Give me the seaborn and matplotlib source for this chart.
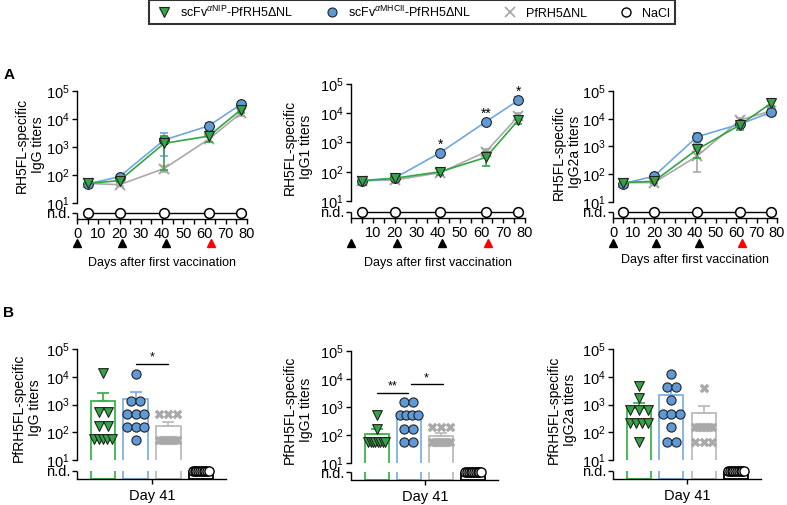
import numpy as np
import pandas as pd
import matplotlib
matplotlib.use('Agg')
import matplotlib.pyplot as plt
import matplotlib.transforms as mtransforms
from matplotlib.lines import Line2D
from matplotlib.ticker import FixedLocator, NullLocator
import seaborn as sns

sns.set_theme(style='ticks')
plt.rcParams['font.family'] = ['Liberation Sans', 'DejaVu Sans']
plt.rcParams['mathtext.fontset'] = 'custom'
plt.rcParams['mathtext.rm'] = 'Liberation Sans'
plt.rcParams['mathtext.it'] = 'Liberation Sans:italic'
plt.rcParams['mathtext.bf'] = 'Liberation Sans:bold'
plt.rcParams['axes.linewidth'] = 1.0
plt.rcParams['xtick.major.width'] = 1.0
plt.rcParams['ytick.major.width'] = 1.0
plt.rcParams['xtick.minor.width'] = 1.0
plt.rcParams['xtick.color'] = 'black'
plt.rcParams['ytick.color'] = 'black'
plt.rcParams['axes.edgecolor'] = 'black'
plt.rcParams['text.color'] = 'black'

# ---------------- data ----------------
group_keys = ['NIP', 'MHCII', 'PfRH5', 'NaCl']
legend_labels = [r'scFv$^{\alpha\mathrm{NIP}}$-PfRH5ΔNL',
                 r'scFv$^{\alpha\mathrm{MHCII}}$-PfRH5ΔNL',
                 'PfRH5ΔNL', 'NaCl']
days = [5, 20, 41, 62, 77]
vaccination_days = [0, 21, 42, 63]
vaccination_colors = ['black', 'black', 'black', 'red']
a_ylabels = ['RH5FL-specific\nIgG titers', 'RH5FL-specific\nIgG1 titers', 'RH5FL-specific\nIgG2a titers']
b_ylabels = ['PfRH5FL-specific\nIgG titers', 'PfRH5FL-specific\nIgG1 titers', 'PfRH5FL-specific\nIgG2a titers']
x_title = 'Days after first vaccination'
b_xlabel = 'Day 41'

# Panel A: mean titers and SEM over time
igg_nip = [50, 63, 1350, 2450, 21000]
igg_nip_sem = [4, 8, 1200, 1000, 5000]
igg_mhc = [48, 87, 1780, 5700, 33000]
igg_mhc_sem = [4, 15, 1300, 1500, 6000]
igg_pf = [50, 45, 170, 1900, 16000]
igg_pf_sem = [4, 5, 40, 400, 3000]

igg1_nip = [50, 60, 100, 310, 5900]
igg1_nip_sem = [4, 6, 20, 150, 1500]
igg1_mhc = [47, 60, 450, 5100, 28000]
igg1_mhc_sem = [4, 6, 90, 900, 7000]
igg1_pf = [50, 52, 93, 480, 8000]
igg1_pf_sem = [4, 5, 15, 100, 2000]

igg2a_nip = [50, 56, 780, 6000, 36000]
igg2a_nip_sem = [4, 6, 400, 2100, 8000]
igg2a_mhc = [46, 85, 2240, 6400, 17000]
igg2a_mhc_sem = [4, 15, 900, 1500, 3000]
igg2a_pf = [50, 50, 450, 9000, 19000]
igg2a_pf_sem = [4, 5, 330, 2000, 3000]

igg1_sig_days = [41, 62, 77]
igg1_sig_labels = ['*', '**', '*']

# Panel B: day 41 individual titers, bar means, SEM
b_igg_nip = [13500, 550, 550, 170, 170, 56, 56, 56, 56, 56]
b_igg_mhc = [13000, 1350, 1350, 460, 460, 460, 150, 150, 150, 52]
b_igg_pf = [460, 460, 460, 52, 52, 52, 52, 52, 52, 52]
b_igg_mean = [1350, 1600, 170]
b_igg_sem = [1250, 1150, 70]

b_igg1_nip = [530, 160, 57, 57, 57, 57, 57, 57, 57, 57]
b_igg1_mhc = [1500, 1500, 500, 500, 500, 500, 160, 160, 54, 54]
b_igg1_pf = [200, 200, 200, 57, 57, 57, 57, 57, 57, 57]
b_igg1_mean = [106, 500, 92]
b_igg1_sem = [55, 170, 28]

b_igg2a_nip = [4700, 1700, 620, 620, 620, 220, 220, 220, 220, 46]
b_igg2a_mhc = [13000, 4300, 4300, 1400, 460, 460, 460, 150, 46, 46]
b_igg2a_pf = [3900, 160, 160, 160, 160, 160, 160, 46, 46, 46]
b_igg2a_mean = [740, 2240, 490]
b_igg2a_sem = [380, 1250, 400]

n_nacl = 10  # NaCl mice: all not detected

# ---------------- style ----------------
GREEN = '#33a544'
BLUE = '#5f9ad6'
BLUE_LINE = '#6fa8de'
GRAY = '#a9a9a9'
BAR_EDGE = ['#3cb44b', '#7fb1e3', '#bcbcbc', 'black']

W, H = 787, 505
fig = plt.figure(figsize=(W / 100, H / 100), dpi=100)


def px_axes(x0, top, x1, bottom):
    return fig.add_axes([x0 / W, 1 - bottom / H, (x1 - x0) / W, (bottom - top) / H])


def ftext(x, y, s, **kw):
    return fig.text(x / W, 1 - y / H, s, **kw)


def make_log_axis(x0, x1, top, ten, nd, axis):
    ax = px_axes(x0, top, x1, axis)
    dec = (ten - top) / 4.0
    bottom_log = 1 - (axis - ten) / dec
    nd_log = 1 - (nd - ten) / dec
    ax.set_yscale('log')
    ax.set_ylim(10 ** bottom_log, 1e5)
    return ax, 10 ** bottom_log, 10 ** nd_log


def finish_log_axis(ax, ybot, ynd):
    ax.set_yscale('log')
    ax.set_ylim(ybot, 1e5)
    ax.yaxis.set_major_locator(FixedLocator([ynd, 1e1, 1e2, 1e3, 1e4, 1e5]))
    ax.yaxis.set_minor_locator(NullLocator())
    ax.set_yticklabels(['n.d.', '$10^{1}$', '$10^{2}$', '$10^{3}$', '$10^{4}$', '$10^{5}$'])
    ax.spines['left'].set_bounds(10, 1e5)
    for s in ['top', 'right']:
        ax.spines[s].set_visible(False)
    trans = mtransforms.blended_transform_factory(ax.transAxes, ax.transData)
    ax.add_line(Line2D([0, 0], [ybot, ynd], transform=trans, color='black', lw=1.0,
                       clip_on=False, solid_capstyle='butt'))
    ax.tick_params(axis='y', length=3.5, width=1.0, pad=1.5, labelsize=10.5)
    ax.set_ylabel('')
    ax.set_xlabel('')
    ax.grid(False)
    ax.set_facecolor('none')


# ---------------- Panel A ----------------
a_specs = [
    dict(x0=77, x1=247, top=91, ten=203, nd=213, axis=219, lab_x=30, lab_y=145, title_y=263, zero=True,
         data=[(igg_pf, igg_pf_sem), (igg_mhc, igg_mhc_sem), (igg_nip, igg_nip_sem)]),
    dict(x0=351, x1=525, top=84, ten=201, nd=212, axis=218, lab_x=298, lab_y=147, title_y=263, zero=False,
         data=[(igg1_pf, igg1_pf_sem), (igg1_mhc, igg1_mhc_sem), (igg1_nip, igg1_nip_sem)]),
    dict(x0=613, x1=777, top=91, ten=202, nd=212, axis=218, lab_x=567, lab_y=152, title_y=260, zero=True,
         data=[(igg2a_pf, igg2a_pf_sem), (igg2a_mhc, igg2a_mhc_sem), (igg2a_nip, igg2a_nip_sem)]),
]
series_style = [
    dict(color=GRAY, marker='x', mfc=GRAY, mec=GRAY, ms=6.5, mew=1.5, z=3),
    dict(color=BLUE_LINE, marker='o', mfc=BLUE, mec='#222222', ms=7, mew=0.8, z=4),
    dict(color=GREEN, marker='v', mfc=GREEN, mec='#222222', ms=7.5, mew=0.8, z=5),
]

for i, sp in enumerate(a_specs):
    ax, ybot, ynd = make_log_axis(sp['x0'], sp['x1'], sp['top'], sp['ten'], sp['nd'], sp['axis'])
    for (vals, sems), st in zip(sp['data'], series_style):
        ax.errorbar(days, vals, yerr=sems, fmt='none', ecolor=st['color'], elinewidth=1.2,
                    capsize=3, capthick=1.2, zorder=st['z'] - 0.5)
        df = pd.DataFrame({'day': days, 'titer': vals})
        sns.lineplot(data=df, x='day', y='titer', ax=ax, color=st['color'], lw=1.2,
                     marker=st['marker'], markersize=st['ms'], markerfacecolor=st['mfc'],
                     markeredgecolor=st['mec'], markeredgewidth=st['mew'], zorder=st['z'],
                     errorbar=None)
    nacl_df = pd.DataFrame({'day': days, 'titer': [ynd] * len(days)})
    sns.lineplot(data=nacl_df, x='day', y='titer', ax=ax, color='black', lw=1.0, marker='o',
                 markersize=7, markerfacecolor='white', markeredgecolor='black',
                 markeredgewidth=1.1, zorder=6, errorbar=None, clip_on=False)
    finish_log_axis(ax, ybot, ynd)
    ax.set_xlim(0, 80)
    ax.set_xticks(list(range(0, 81, 10)))
    ax.set_xticks(list(range(5, 80, 10)), minor=True)
    xl = [str(v) for v in range(0, 81, 10)]
    if not sp['zero']:
        xl[0] = ''
    ax.set_xticklabels(xl)
    ax.tick_params(axis='x', which='both', length=3.3, width=1.0, pad=2.5, labelsize=10.5)
    # vaccination markers
    vy = (sp['axis'] - 243) / (sp['axis'] - sp['top'])
    tr = mtransforms.blended_transform_factory(ax.transData, ax.transAxes)
    for d, c in zip(vaccination_days, vaccination_colors):
        ax.plot([d], [vy], marker='^', color=c, markersize=6, transform=tr, clip_on=False, ls='none')
    ftext((sp['x0'] + sp['x1']) / 2, sp['title_y'], x_title, ha='center', va='center', fontsize=9)
    ftext(sp['lab_x'], sp['lab_y'], a_ylabels[i], rotation=90, ha='center', va='center',
          fontsize=10, multialignment='center', linespacing=1.15)
    if i == 1:
        for d, lbl in zip(igg1_sig_days, igg1_sig_labels):
            v = igg1_mhc[days.index(d)]
            ax.annotate(lbl, xy=(d, v), xytext=(0, 6), textcoords='offset points',
                        ha='center', va='center', fontsize=10)

# ---------------- Panel B ----------------
b_specs = [
    dict(x0=77, x1=226, top=349, ten=460, nd=471, axis=479, lab_x=27, lab_y=408,
         pts=[b_igg_nip, b_igg_mhc, b_igg_pf], mean=b_igg_mean, sem=b_igg_sem,
         brackets=[(1.0, 2.0, 3.0e4, '*')]),
    dict(x0=351, x1=498, top=351, ten=463, nd=472, axis=480, lab_x=298, lab_y=410,
         pts=[b_igg1_nip, b_igg1_mhc, b_igg1_pf], mean=b_igg1_mean, sem=b_igg1_sem,
         brackets=[(0.0, 0.97, 3.2e3, '**'), (1.05, 2.05, 6.6e3, '*')]),
    dict(x0=613, x1=761, top=349, ten=460, nd=471, axis=479, lab_x=562, lab_y=410,
         pts=[b_igg2a_nip, b_igg2a_mhc, b_igg2a_pf], mean=b_igg2a_mean, sem=b_igg2a_sem,
         brackets=[]),
]
pt_style = [
    dict(marker='v', color=GREEN, edgecolor='#222222', linewidth=0.8, size=7.0),
    dict(marker='o', color=BLUE, edgecolor='#222222', linewidth=0.8, size=6.6),
    dict(marker='X', color=GRAY, edgecolor=GRAY, linewidth=0, size=7.0),
    dict(marker='o', color='white', edgecolor='black', linewidth=1.0, size=6.6),
]
BAR_W = 0.75


def spread_rows(coll, center, half_width, step):
    offs = np.asarray(coll.get_offsets(), dtype=float).copy()
    keys = np.round(np.log10(offs[:, 1]), 2)
    for k in np.unique(keys):
        idx = np.where(keys == k)[0]
        n = len(idx)
        if n > 1:
            s = min(step, 2 * half_width / (n - 1))
            offs[idx, 0] = center + (np.arange(n) - (n - 1) / 2) * s
        else:
            offs[idx, 0] = center
    coll.set_offsets(offs)


for i, sp in enumerate(b_specs):
    ax, ybot, ynd = make_log_axis(sp['x0'], sp['x1'], sp['top'], sp['ten'], sp['nd'], sp['axis'])
    ax.set_yscale('linear')
    bar_vals = list(sp['mean']) + [ynd]
    sns.barplot(x=group_keys, y=bar_vals, hue=group_keys, order=group_keys, hue_order=group_keys,
                palette=BAR_EDGE, fill=False, linewidth=1.3, width=BAR_W, legend=False, ax=ax,
                errorbar=None)
    ax.set_yscale('log')
    ax.set_ylim(ybot, 1e5)
    for j, p in enumerate(ax.patches):
        top = bar_vals[j]
        p.set_y(ybot)
        p.set_height(top - ybot)
        p.set_zorder(1.5)
    # axis break band
    ax.axhspan(10, ynd, color='white', zorder=2.2, lw=0)
    # error bars (upward SEM)
    for j in range(3):
        ax.errorbar([j], [sp['mean'][j]], yerr=[[0], [sp['sem'][j]]], fmt='none',
                    ecolor=BAR_EDGE[j], elinewidth=1.3, capsize=4.5, capthick=1.3, zorder=1.6)
    # points
    all_pts = list(sp['pts']) + [[ynd] * n_nacl]
    for j, vals in enumerate(all_pts):
        st = pt_style[j]
        n0 = len(ax.collections)
        sns.stripplot(x=[group_keys[j]] * len(vals), y=vals, order=group_keys, jitter=False,
                      marker=st['marker'], color=st['color'], edgecolor=st['edgecolor'],
                      linewidth=st['linewidth'], size=st['size'], ax=ax, zorder=4)
        for coll in ax.collections[n0:]:
            if len(coll.get_offsets()) == 0:
                continue
            coll.set_clip_on(False)
            if j == 3:
                spread_rows(coll, j, 0.25, 0.28)
            else:
                spread_rows(coll, j, 0.27, 0.28)
    for x1, x2, yv, lbl in sp['brackets']:
        ax.plot([x1, x2], [yv, yv], color='black', lw=1.0, zorder=5)
        ax.annotate(lbl, xy=((x1 + x2) / 2, yv), xytext=(0, 0), textcoords='offset points',
                    ha='center', va='bottom', fontsize=9)
    finish_log_axis(ax, ybot, ynd)
    ax.set_xlim(-0.8, 3.77)
    ax.set_xticks([1.5])
    ax.set_xticklabels([b_xlabel])
    ax.xaxis.set_minor_locator(NullLocator())
    ax.tick_params(axis='x', length=3.5, width=1.0, pad=4, labelsize=10.5)
    ftext(sp['lab_x'], sp['lab_y'], b_ylabels[i], rotation=90, ha='center', va='center',
          fontsize=10, multialignment='center', linespacing=1.15)

# panel letters
ftext(9, 75, 'A', fontsize=11, fontweight='bold', ha='center', va='center')
ftext(9, 313, 'B', fontsize=11, fontweight='bold', ha='center', va='center')

# legend
handles = [
    Line2D([], [], ls='none', marker='v', markerfacecolor=GREEN, markeredgecolor='#222222', markeredgewidth=0.8, markersize=7),
    Line2D([], [], ls='none', marker='o', markerfacecolor=BLUE, markeredgecolor='#222222', markeredgewidth=0.8, markersize=6.5),
    Line2D([], [], ls='none', marker='x', color=GRAY, markeredgewidth=1.3, markersize=6.5),
    Line2D([], [], ls='none', marker='o', markerfacecolor='white', markeredgecolor='black', markeredgewidth=1.0, markersize=6.5),
]
leg = fig.legend(handles, legend_labels, loc='center', bbox_to_anchor=(412 / W, 1 - 12 / H), ncol=4,
                 frameon=True, fancybox=False, edgecolor='black', fontsize=9, handletextpad=0.5,
                 columnspacing=2.3, borderpad=0.35, handlelength=1.6)
leg.get_frame().set_linewidth(1.5)

fig.savefig('out.png', dpi=100)
